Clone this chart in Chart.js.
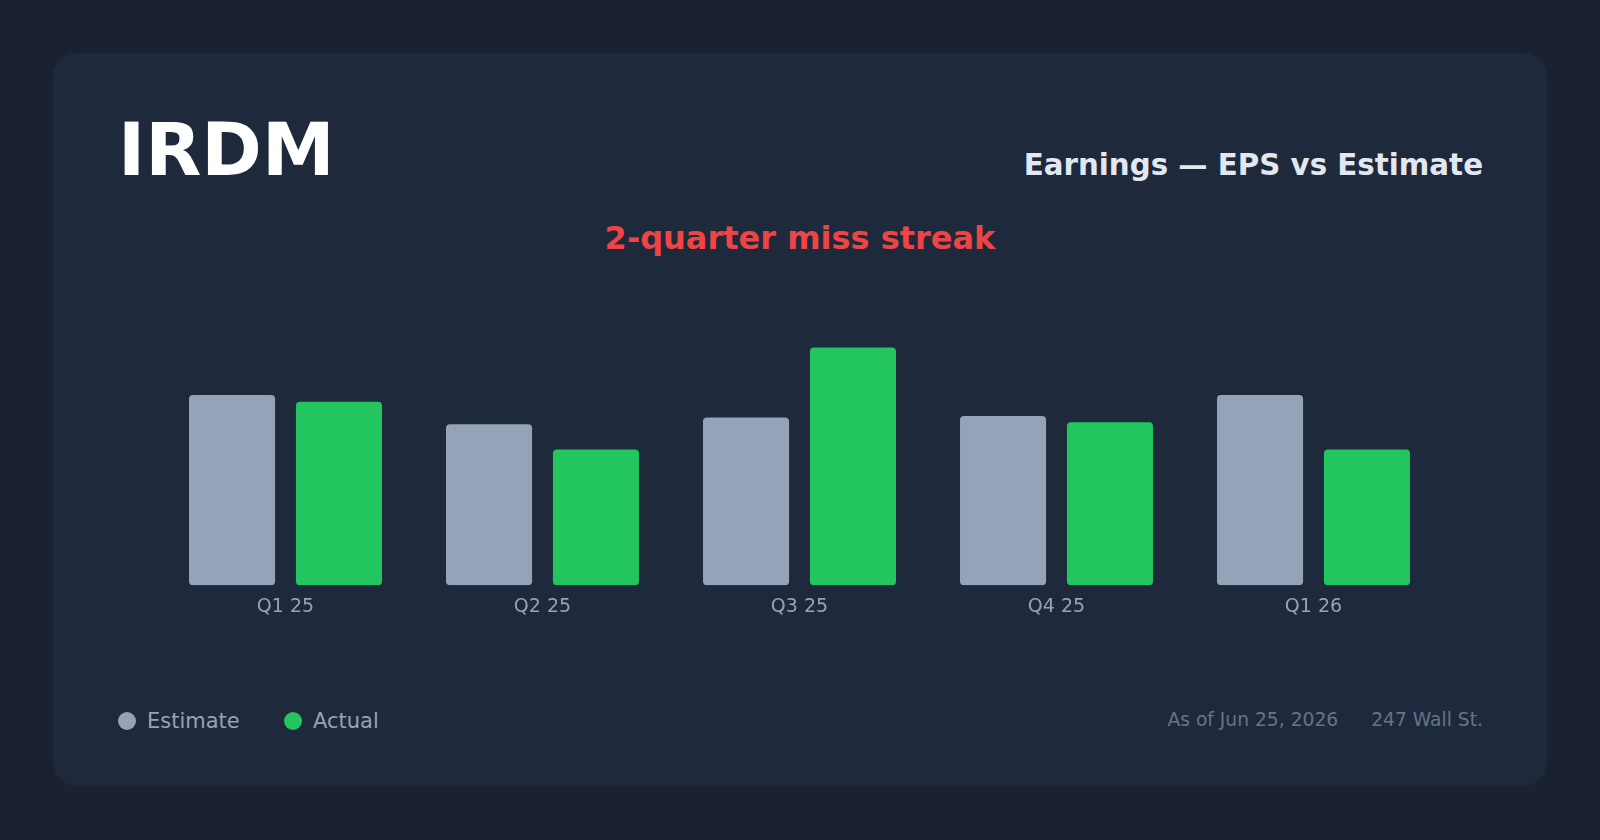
<!DOCTYPE html>
<html>
<head>
<meta charset="utf-8">
<script src="https://cdn.jsdelivr.net/npm/chart.js@4/dist/chart.umd.min.js"></script>
<style>
    html, body {
        margin: 0;
        padding: 0;
        width: 1600px;
        height: 840px;
        background: #1a2231;
        font-family: "DejaVu Sans", sans-serif;
        overflow: hidden;
    }
    .card {
        position: absolute;
        left: 53px;
        top: 53px;
        width: 1494px;
        height: 733px;
        background: #1e293b;
        border-radius: 24px;
    }
    .abs {
        position: absolute;
        line-height: 1;
        white-space: nowrap;
    }
    #ticker {
        left: 65px;
        top: 60px;
        font-size: 73px;
        font-weight: bold;
        color: #ffffff;
    }
    #subtitle {
        right: 64px;
        top: 98px;
        font-size: 29.3px;
        font-weight: bold;
        color: #e2e8f0;
    }
    #streak {
        left: 0;
        width: 1494px;
        text-align: center;
        top: 169px;
        font-size: 32px;
        font-weight: bold;
        color: #ef4444;
    }
    #chartBox {
        position: absolute;
        left: 66px;
        top: 228px;
        width: 1364px;
        height: 347px;
    }
    .legend-item {
        position: absolute;
        top: 658px;
        font-size: 21px;
        color: #94a3b8;
        line-height: 1;
        white-space: nowrap;
    }
    .legend-dot {
        display: inline-block;
        width: 18px;
        height: 18px;
        border-radius: 50%;
        vertical-align: -2px;
        margin-right: 11px;
    }
    #footer {
        right: 64px;
        top: 658px;
        font-size: 18.7px;
        color: #64748b;
    }
    #footer span + span {
        margin-left: 33px;
    }
</style>
</head>
<body>
<div class="card">
    <div class="abs" id="ticker">IRDM</div>
    <div class="abs" id="subtitle">Earnings — EPS vs Estimate</div>
    <div class="abs" id="streak">2-quarter miss streak</div>
    <div id="chartBox"><canvas id="epsChart"></canvas></div>
    <div class="legend-item" style="left:65px"><span class="legend-dot" style="background:#94a3b8"></span>Estimate</div>
    <div class="legend-item" style="left:231px"><span class="legend-dot" style="background:#22c55e"></span>Actual</div>
    <div class="abs" id="footer"><span>As of Jun 25, 2026</span><span>247 Wall St.</span></div>
</div>
<script>
const quarters = ['Q1 25', 'Q2 25', 'Q3 25', 'Q4 25', 'Q1 26'];
const estimateEps = [0.28, 0.237, 0.247, 0.249, 0.28];
const actualEps = [0.27, 0.20, 0.35, 0.24, 0.20];

const estimateColor = '#94a3b8';
const actualColor = '#22c55e';

function makeDataset(label, data, color) {
    return {
        label: label,
        data: data,
        backgroundColor: color,
        borderRadius: 4,
        borderSkipped: false,
        categoryPercentage: 0.832,
        barPercentage: 0.805
    };
}

const ctx = document.getElementById('epsChart').getContext('2d');
new Chart(ctx, {
    type: 'bar',
    data: {
        labels: quarters,
        datasets: [
            makeDataset('Estimate', estimateEps, estimateColor),
            makeDataset('Actual', actualEps, actualColor)
        ]
    },
    options: {
        responsive: true,
        maintainAspectRatio: false,
        animation: false,
        layout: {
            padding: { left: 38, right: 41, top: 0, bottom: 0 }
        },
        plugins: {
            legend: { display: false },
            tooltip: { enabled: false }
        },
        scales: {
            x: {
                grid: { display: false, drawTicks: false },
                border: { display: false },
                ticks: {
                    color: '#94a3b8',
                    padding: 10,
                    font: { family: 'DejaVu Sans', size: 19 }
                }
            },
            y: {
                display: false,
                min: 0,
                max: 0.448
            }
        }
    }
});
</script>
</body>
</html>
